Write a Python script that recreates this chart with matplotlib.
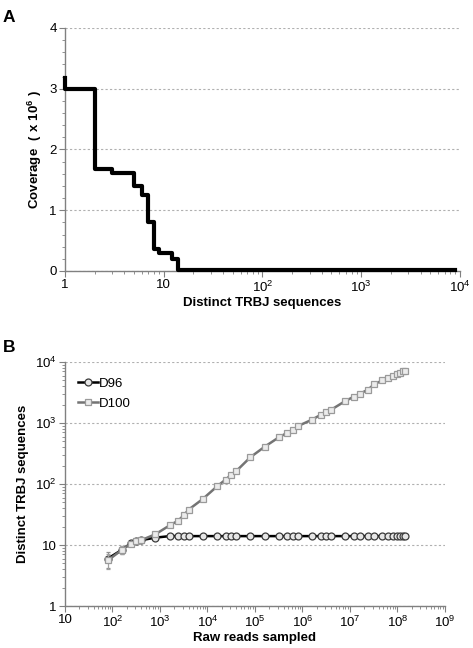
import matplotlib

matplotlib.use('Agg')
import numpy as np
import matplotlib.pyplot as plt
import matplotlib.ticker as ticker
from matplotlib.lines import Line2D

plt.rcParams.update({
    'font.family': ['Liberation Sans', 'DejaVu Sans'],
    'font.size': 9,
    'mathtext.fontset': 'custom',
    'mathtext.rm': 'Liberation Sans',
})

# Panel A: coverage (x 10^6) per ranked distinct TRBJ sequence
rank_a = [1, 1, 2, 3, 5, 6, 7, 8, 9, 12, 14, 9000]
cov_a = [3.17, 3.0, 1.68, 1.62, 1.40, 1.25, 0.80, 0.36, 0.30, 0.20, 0.015, 0.015]

# Panel B: rarefaction curves
reads_b = [80, 160, 240, 320, 400, 800, 1600, 2400, 3200, 4000, 8000,
           16000, 24000, 32000, 40000, 80000, 160000, 320000, 480000, 640000,
           800000, 1.6e6, 2.4e6, 3.2e6, 4e6, 8e6, 1.2e7, 1.6e7, 2.4e7,
           3.2e7, 4.8e7, 6.4e7, 8e7, 9.6e7, 1.12e8, 1.28e8, 1.44e8]
d96 = [6.0, 8.4, 10.6, 11.5, 12.0, 13.2, 14, 14, 14, 14, 14,
       14, 14, 14, 14, 14, 14, 14, 14, 14,
       14, 14, 14, 14, 14, 14, 14, 14, 14,
       14, 14, 14, 14, 14, 14, 14, 14]
d96_err = [1.8, 1.3, 0.6, 0.4, 0.3] + [0] * 32
d100 = [5.6, 8.4, 10.5, 11.5, 12.0, 15, 21, 25, 31, 38, 57,
        92, 118, 143, 162, 275, 409, 585, 693, 765,
        890, 1140, 1360, 1500, 1650, 2300, 2700, 3000, 3540,
        4300, 5000, 5500, 6000, 6400, 6700, 7000, 7200]
d100_err = [1.5, 1.2, 0.6, 0.4, 0.3] + [0] * 32

spine_c = '#808080'
grid_c = '#b0b0b0'


def log_fmt(v, pos):
    k = int(round(np.log10(v)))
    if k == 0:
        return '1'
    if k == 1:
        return '10'
    return r'$\mathregular{10^{%d}}$' % k


def style_axes(ax):
    for s in ['top', 'right']:
        ax.spines[s].set_visible(False)
    for s in ['left', 'bottom']:
        ax.spines[s].set_color(spine_c)
        ax.spines[s].set_linewidth(1.0)
    ax.tick_params(axis='both', which='both', color=spine_c, labelsize=9.5, pad=2)
    ax.tick_params(axis='both', which='major', length=4)
    ax.tick_params(axis='both', which='minor', length=2.5)
    ax.yaxis.grid(True, which='major', linestyle=(0, (2, 2)), color=grid_c, linewidth=0.8)
    ax.set_axisbelow(True)


fig = plt.figure(figsize=(4.73, 6.48), dpi=100)

# ---- Panel A ----
ax1 = fig.add_axes([0.1374, 0.5818, 0.835, 0.375])
ax1.step(rank_a, cov_a, where='post', color='black', linewidth=3.0, clip_on=False, zorder=3)
ax1.set_xscale('log')
ax1.set_xlim(1, 1e4)
ax1.set_ylim(0, 4)
ax1.yaxis.set_major_locator(ticker.MultipleLocator(1))
ax1.yaxis.set_minor_locator(ticker.MultipleLocator(0.2))
ax1.xaxis.set_major_formatter(ticker.FuncFormatter(log_fmt))
ax1.xaxis.set_minor_formatter(ticker.NullFormatter())
style_axes(ax1)
ax1.set_xlabel('Distinct TRBJ sequences', fontweight='bold', fontsize=9.5, labelpad=2)
ax1.set_ylabel(r'Coverage $\mathregular{\ (\ x\ 10^{6}\ )}$', fontweight='bold', fontsize=9.5, labelpad=4)
fig.text(0.006, 0.985, 'A', fontsize=12.5, fontweight='bold', va='top', ha='left')

# ---- Panel B ----
ax2 = fig.add_axes([0.1374, 0.0648, 0.8034, 0.3765])
d96_style = dict(color='black', linewidth=1.8, marker='o', markersize=5,
                 markerfacecolor='#e6e6e6', markeredgecolor='#3a3a3a', markeredgewidth=0.9)
d100_style = dict(color='#747474', linewidth=1.8, marker='s', markersize=4.6,
                  markerfacecolor='#ececec', markeredgecolor='#9a9a9a', markeredgewidth=0.9)
ax2.errorbar(reads_b, d96, yerr=d96_err, ecolor='#909090', elinewidth=0.8, capsize=1.5,
             zorder=3, **d96_style)
ax2.errorbar(reads_b, d100, yerr=d100_err, ecolor='#a0a0a0', elinewidth=0.8, capsize=1.5,
             zorder=4, **d100_style)
ax2.set_xscale('log')
ax2.set_yscale('log')
ax2.set_xlim(10, 1e9)
ax2.set_ylim(1, 1e4)
ax2.xaxis.set_major_locator(ticker.LogLocator(base=10, numticks=12))
ax2.xaxis.set_minor_locator(ticker.LogLocator(base=10, subs=np.arange(2, 10), numticks=12))
ax2.xaxis.set_major_formatter(ticker.FuncFormatter(log_fmt))
ax2.yaxis.set_major_formatter(ticker.FuncFormatter(log_fmt))
ax2.xaxis.set_minor_formatter(ticker.NullFormatter())
ax2.yaxis.set_minor_formatter(ticker.NullFormatter())
style_axes(ax2)
ax2.set_xlabel('Raw reads sampled', fontweight='bold', fontsize=9.5, labelpad=2)
ax2.set_ylabel('Distinct TRBJ sequences', fontweight='bold', fontsize=9.5, labelpad=4)
handles = [Line2D([0], [0], **d96_style), Line2D([0], [0], **d100_style)]
ax2.legend(handles, ['D96', 'D100'], loc='upper left', bbox_to_anchor=(0.0, 0.99),
           frameon=False, fontsize=9.5, handlelength=1.5, handletextpad=0.1,
           labelspacing=0.6, borderaxespad=0.6)
fig.text(0.006, 0.475, 'B', fontsize=12.5, fontweight='bold', va='top', ha='left')

fig.savefig('out.png', dpi=100)
